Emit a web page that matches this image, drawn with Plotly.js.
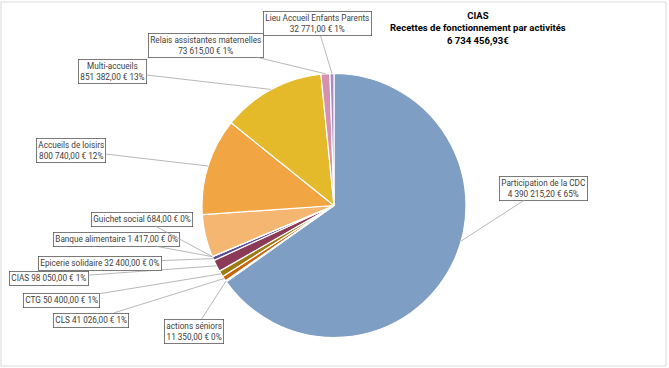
<!DOCTYPE html>
<html>
<head>
<meta charset="utf-8">
<script src="https://cdn.plot.ly/plotly-3.0.1.min.js"></script>
<style>html,body{margin:0;padding:0;background:#fff;}#chart{width:669px;height:368px;}</style>
</head>
<body>
<div id="chart"></div>
<script>
// ---- data ----
const categories = ["Participation de la CDC","actions séniors","CLS","CTG","CIAS","Epicerie solidaire","Banque alimentaire","Guichet social","Autres","Accueils de loisirs","Multi-accueils","Relais assistantes maternelles","Lieu Accueil Enfants Parents"];
const amounts = [4390215.20, 11350, 41026, 50400, 98050, 32400, 1417, 684, 350406.73, 800740, 851382, 73615, 32771];
const percentLabels = [65, 0, 1, 1, 1, 0, 0, 0, null, 12, 13, 1, 1];
const twoLine = [true, true, false, false, false, false, false, false, false, true, true, true, true];
const sliceColors = ["#7F9EC4","#4A6FA5","#C8650F","#9C7B10","#8B3A58","#5B4A96","#3E7F8F","#7A9E3C","#F5B672","#F2A543","#E5BA2A","#D592AE","#A68BCB"];
const titleText = "<b>CIAS<br>Recettes de fonctionnement par activités<br>6 734 456,93€</b>";

// ---- layout (pixel positions of label boxes) ----
const W = 669, H = 368;
const cx = 334, cy = 205.5, R = 132;
const boxCenters = [[543,188],[194,331],[91,320],[61,300],[49,278],[100,263],[117,239],[142,219],null,[71,150],[112,71],[206,45],[317,24]];
const leaderFrac = [0.45,0.5,0.5,0.5,0.5,0.5,0.5,0.5,0.5,0.5,0.5,0.5,0.5];
const FONT = "Roboto, sans-serif";

function fmt(v){
  const parts = v.toFixed(2).split(".");
  const int = parts[0].replace(/\B(?=(\d{3})+(?!\d))/g, " ");
  return int + "," + parts[1] + " €";
}

const total = amounts.reduce((a,b)=>a+b,0);
const annotations = [];
let cum = 0;
amounts.forEach((v,i)=>{
  const start = cum/total*360, span = v/total*360;
  cum += v;
  if(!boxCenters[i]) return;
  const th = (start + span*leaderFrac[i]) * Math.PI/180;
  const px = cx + R*Math.sin(th), py = cy - R*Math.cos(th);
  const txt = categories[i] + (twoLine[i] ? "<br>" : " ") + fmt(v) + " " + percentLabels[i] + "%";
  annotations.push({
    xref:"paper", yref:"paper", x:px/W, y:1-py/H,
    ax: boxCenters[i][0]-px, ay: boxCenters[i][1]-py,
    text: txt, showarrow:true, arrowhead:0, arrowwidth:0.8, arrowcolor:"#A6A6A6",
    standoff:0, startstandoff:0,
    bordercolor:"#595959", borderwidth:0.8, borderpad:1.5, bgcolor:"#FFFFFF",
    font:{family:FONT, size:8.2, color:"#404040"},
    align:"center"
  });
});

annotations.push({
  xref:"paper", yref:"paper", x:478/W, y:1-8/H, xanchor:"center", yanchor:"top",
  showarrow:false, text:titleText, align:"center",
  font:{family:FONT, size:9.5, color:"#000000"}
});

const trace = {
  type:"pie", labels:categories, values:amounts, sort:false, direction:"clockwise", rotation:0,
  textinfo:"none", hoverinfo:"none",
  marker:{colors:sliceColors, line:{color:"#FFFFFF", width:1.2}},
  domain:{x:[(cx-R)/W,(cx+R)/W], y:[1-(cy+R)/H, 1-(cy-R)/H]}
};

const layout = {
  width:W, height:H, margin:{l:0,r:0,t:0,b:0}, showlegend:false,
  paper_bgcolor:"#FFFFFF",
  annotations:annotations,
  shapes:[{type:"rect", xref:"paper", yref:"paper", x0:1/W, x1:666/W, y0:1-366/H, y1:1-2/H, line:{color:"#D9D9D9", width:1}}]
};

Plotly.newPlot("chart",[trace],layout,{staticPlot:true});
</script>
</body>
</html>
